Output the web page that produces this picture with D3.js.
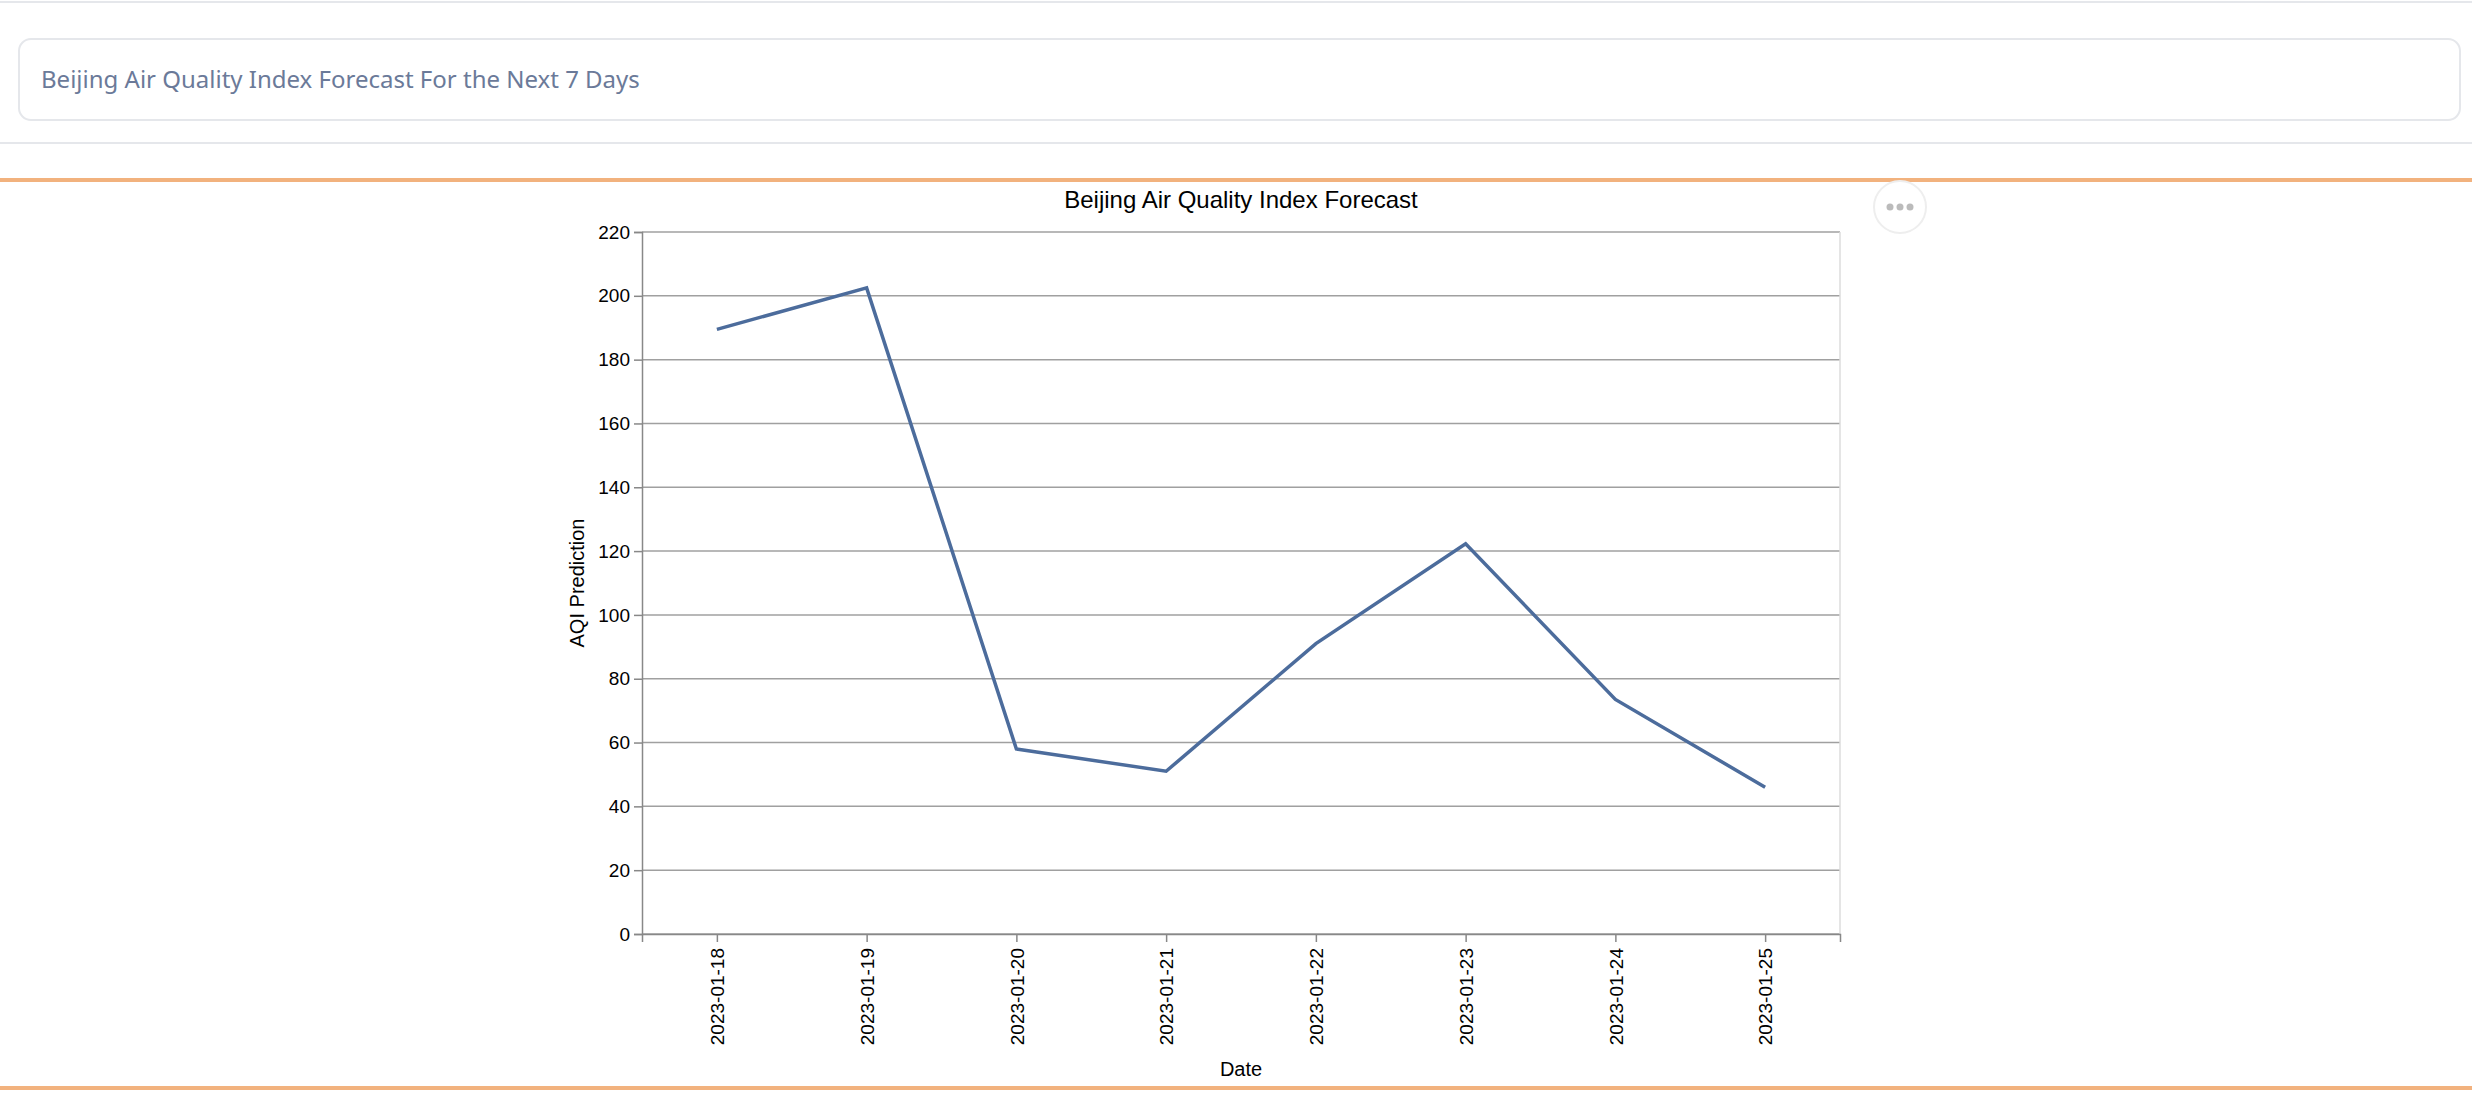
<!DOCTYPE html>
<html>
<head>
<meta charset="utf-8">
<script src="https://cdn.jsdelivr.net/npm/d3@7"></script>
<style>
body { margin: 0; background: #fff; }
svg text { font-family: "Liberation Sans", Arial, sans-serif; }
</style>
</head>
<body>
<svg id="chart" width="2472" height="1100"></svg>
<script>
// data
var dates = ["2023-01-18", "2023-01-19", "2023-01-20", "2023-01-21", "2023-01-22", "2023-01-23", "2023-01-24", "2023-01-25"];
var aqi = [189.5, 202.5, 58, 51, 91, 122.3, 73.5, 46];
var yTicks = [0, 20, 40, 60, 80, 100, 120, 140, 160, 180, 200, 220];

var svg = d3.select("#chart");

// page chrome
svg.append("line").attr("x1", 0).attr("x2", 2472).attr("y1", 2).attr("y2", 2)
    .attr("stroke", "#e5e7eb").attr("stroke-width", 2);
svg.append("rect").attr("x", 19).attr("y", 39).attr("width", 2441).attr("height", 81)
    .attr("rx", 12).attr("fill", "#fff").attr("stroke", "#e5e7eb").attr("stroke-width", 2);
svg.append("text").attr("x", 41).attr("y", 88)
    .style("font-family", "'Noto Sans', 'Open Sans', sans-serif")
    .attr("font-size", 24).attr("fill", "#6b7a99")
    .text("Beijing Air Quality Index Forecast For the Next 7 Days");
svg.append("line").attr("x1", 0).attr("x2", 2472).attr("y1", 143).attr("y2", 143)
    .attr("stroke", "#e5e7eb").attr("stroke-width", 2);
svg.append("line").attr("x1", 0).attr("x2", 2472).attr("y1", 180).attr("y2", 180)
    .attr("stroke", "#f2b27e").attr("stroke-width", 4);
svg.append("line").attr("x1", 0).attr("x2", 2472).attr("y1", 1088).attr("y2", 1088)
    .attr("stroke", "#f2b27e").attr("stroke-width", 4);

// menu button
svg.append("circle").attr("cx", 1900).attr("cy", 207).attr("r", 26)
    .attr("fill", "#fff").attr("stroke", "#eee").attr("stroke-width", 2);
[-10, 0, 10].forEach(function (dx) {
    svg.append("circle").attr("cx", 1900 + dx).attr("cy", 207).attr("r", 3.5).attr("fill", "#bbb");
});

// chart area
var margin = { left: 642, top: 232 };
var chartWidth = 1198, chartHeight = 702;
var g = svg.append("g").attr("transform", `translate(${margin.left}, ${margin.top})`);

var x = d3.scalePoint().domain(dates).range([0, chartWidth]).padding(0.5);
var y = d3.scaleLinear().domain([0, 220]).range([chartHeight, 0]);

// grid
g.selectAll(".grid").data(yTicks).enter().append("line")
    .attr("x1", 0).attr("x2", chartWidth)
    .attr("y1", d => y(d)).attr("y2", d => y(d))
    .attr("stroke", "#a0a0a0").attr("stroke-width", 1.5);
g.append("line").attr("x1", chartWidth).attr("x2", chartWidth).attr("y1", 0).attr("y2", chartHeight)
    .attr("stroke", "#ddd").attr("stroke-width", 1.5);

// axes
var leftAxis = d3.axisLeft(y).tickValues(yTicks).tickSize(8).tickPadding(4);
var yAxis = g.append("g").call(leftAxis);
yAxis.selectAll("text").attr("font-size", 19).attr("fill", "#000");
yAxis.selectAll("line, path").attr("stroke", "#888").attr("stroke-width", 1.5);

var bottomAxis = d3.axisBottom(x).tickSize(8);
var xAxis = g.append("g").attr("transform", `translate(0, ${chartHeight})`).call(bottomAxis);
xAxis.selectAll("line, path").attr("stroke", "#888").attr("stroke-width", 1.5);
xAxis.selectAll("text")
    .attr("font-size", 19).attr("fill", "#000")
    .attr("transform", "rotate(-90)")
    .attr("text-anchor", "end")
    .attr("x", -14).attr("y", 0).attr("dy", "0.35em");

// line
var line = d3.line().x((d, i) => x(dates[i])).y(d => y(d));
g.append("path").datum(aqi)
    .attr("d", line)
    .attr("fill", "none")
    .attr("stroke", "#4c6c9c")
    .attr("stroke-width", 3.5);

// titles
svg.append("text").attr("x", margin.left + chartWidth / 2 + 0).attr("y", 208)
    .attr("text-anchor", "middle").attr("font-size", 24).attr("fill", "#000")
    .text("Beijing Air Quality Index Forecast");
svg.append("text").attr("transform", `translate(584, ${margin.top + chartHeight / 2}) rotate(-90)`)
    .attr("text-anchor", "middle").attr("font-size", 20).attr("fill", "#000")
    .text("AQI Prediction");
svg.append("text").attr("x", margin.left + chartWidth / 2).attr("y", 1076)
    .attr("text-anchor", "middle").attr("font-size", 20).attr("fill", "#000")
    .text("Date");
</script>
</body>
</html>
